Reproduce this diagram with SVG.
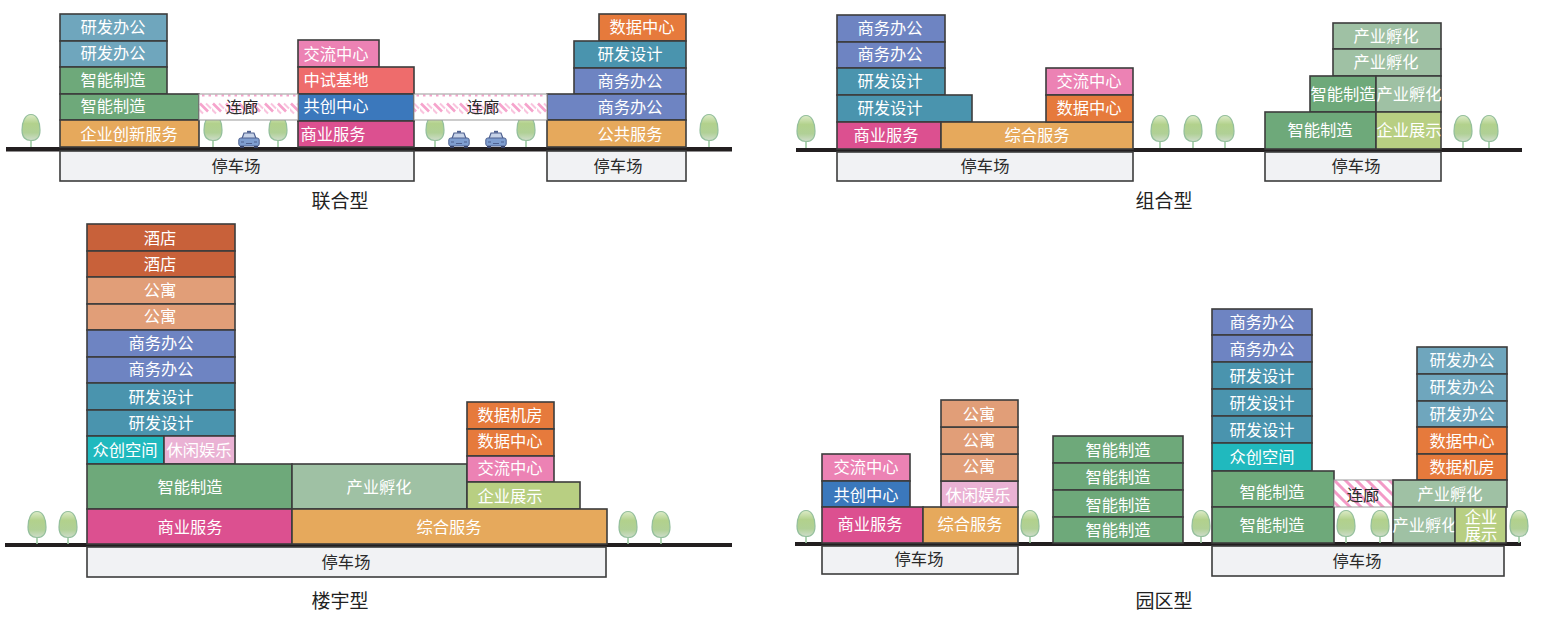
<svg xmlns="http://www.w3.org/2000/svg" xmlns:xlink="http://www.w3.org/1999/xlink" width="1550" height="617" viewBox="0 0 1550 617">
<style>
text{font-family:"Noto Sans CJK SC","Noto Sans",sans-serif;font-size:16.300px;text-anchor:middle}
rect.b{stroke:#3c3c3c;stroke-width:1.600}
.w{fill:#fff}.d{fill:#2a2a2a}
.title{font-size:19px;fill:#222}
.yf{fill:#6FA6BD}.zn{fill:#6EA97A}.cy{fill:#E6A95C}.jl{fill:#EC82B4}.zs{fill:#EE6C6C}.gc{fill:#3B78BC}.sy{fill:#DC5090}
.sj{fill:#E67A3C}.sd{fill:#4A94AE}.sw{fill:#6E84C2}.fh{fill:#9FC1A4}.zk{fill:#B8CF82}.jd{fill:#C8613A}.gy{fill:#E19E78}
.zc{fill:#20B9BE}.xx{fill:#EAB2D4}.pk{fill:#F1F2F4}.lk{fill:url(#hatch)}.lk2{fill:url(#hatch2)}
rect.lk,rect.lk2{stroke:#999;stroke-width:1}
.g{fill:#231F20}
</style>
<defs>
<pattern id="hatch" width="13" height="26" patternUnits="userSpaceOnUse" patternTransform="translate(199 94)">
<rect width="13" height="26" fill="#fff"/>
<path d="M1 9.500l8 8" stroke="#F6A3CC" stroke-width="2.600" fill="none"/>
<path d="M7 9.500l5 5M-1 14.500l5 5" stroke="#F9C4DE" stroke-width="2" fill="none"/>
<path d="M3 1.500h2.500M9.500 1.500h2.500" stroke="#F6A3CC" stroke-width="1.800" fill="none"/>
</pattern>
<pattern id="hatch2" width="11" height="11" patternUnits="userSpaceOnUse" patternTransform="translate(1334 480)">
<rect width="11" height="11" fill="#fff"/>
<path d="M-2 -2L13 13M-2 9L2 13M9 -2L13 2" stroke="#F39AC6" stroke-width="3" fill="none"/>
</pattern>
<linearGradient id="leaf" x1="0" y1="0" x2="0" y2="1"><stop offset="0" stop-color="#DDEBC8"/><stop offset=".35" stop-color="#B2D18C"/><stop offset=".7" stop-color="#B0D096"/><stop offset="1" stop-color="#CFDDCB"/></linearGradient>
<symbol id="tree" width="20" height="34" viewBox="0 0 20 34" overflow="visible">
<path d="M10 26V33" stroke="#9CC9A0" stroke-width="1.600" fill="none"/>
<path d="M10 .5C16 .5 19 8 19 16C19 23.500 15.500 26.500 10 26.500C4.500 26.500 1 23.500 1 16C1 8 4 .5 10 .5Z" fill="url(#leaf)" stroke="#94BF9C" stroke-width="1.200"/>
</symbol>
<symbol id="car" width="22" height="18" viewBox="0 0 22 18">
<path d="M9 .8h4v2h-4z" fill="#4F6190"/>
<path d="M4 8.500L6 3H16L18 8.500Z" fill="#C7D3E8" stroke="#4F6190" stroke-width="1.200"/>
<rect x=".8" y="8" width="20.400" height="8" rx="2" fill="#7F9ED0" stroke="#4F6190" stroke-width="1"/>
<path d="M3 12h3M16 12h3M8 13.500h6" stroke="#4F6190" stroke-width="1.200"/>
<path d="M2 16h4v2h-4zM16 16h4v2h-4z" fill="#3A4468"/>
</symbol>
</defs>

<g id="connectors">
<rect class="g" x="6" y="147" width="726" height="4.500"/>
<rect class="g" x="796" y="148" width="726" height="4"/>
<rect class="g" x="5" y="543" width="727" height="4"/>
<rect class="g" x="795" y="542" width="726" height="4"/>
</g>

<g id="trees">
<use href="#tree" x="21" y="114"/><use href="#tree" x="203" y="114"/><use href="#tree" x="268" y="114"/><use href="#tree" x="425" y="114"/><use href="#tree" x="516" y="114"/><use href="#tree" x="699" y="114"/>
<use href="#tree" x="796" y="115"/><use href="#tree" x="1150" y="115"/><use href="#tree" x="1183" y="115"/><use href="#tree" x="1215" y="115"/><use href="#tree" x="1453" y="115" /><use href="#tree" x="1479" y="115"/>
<use href="#tree" x="27" y="511"/><use href="#tree" x="58" y="511"/><use href="#tree" x="618" y="511"/><use href="#tree" x="651" y="511"/>
<use href="#tree" x="796" y="510"/><use href="#tree" x="1020" y="510"/><use href="#tree" x="1191" y="510"/><use href="#tree" x="1336" y="510"/><use href="#tree" x="1370" y="510"/><use href="#tree" x="1509" y="510"/>
</g>
<g id="cars">
<use href="#car" x="238" y="130"/><use href="#car" x="448" y="130"/><use href="#car" x="485" y="130"/>
</g>

<g id="lh">
<g id="lh-a1"><rect class="b yf" x="60" y="14" width="107" height="27"/><text class="w" x="113" y="33">研发办公</text></g>
<g id="lh-a2"><rect class="b yf" x="60" y="41" width="107" height="26"/><text class="w" x="113" y="59">研发办公</text></g>
<g id="lh-a3"><rect class="b zn" x="60" y="67" width="107" height="27"/><text class="w" x="113" y="86">智能制造</text></g>
<g id="lh-a4"><rect class="b zn" x="60" y="94" width="139" height="26"/><text class="w" x="113" y="112">智能制造</text></g>
<g id="lh-a5"><rect class="b cy" x="60" y="120" width="139" height="27"/><text class="w" x="129" y="140">企业创新服务</text></g>
<g id="lh-m1"><rect class="b jl" x="298" y="40" width="81" height="27"/><text class="w" x="336" y="60">交流中心</text></g>
<g id="lh-m2"><rect class="b zs" x="298" y="67" width="116" height="27"/><text class="w" x="336" y="86">中试基地</text></g>
<g id="lh-m3"><rect class="b gc" x="298" y="94" width="116" height="27"/><text class="w" x="336" y="112">共创中心</text></g>
<g id="lh-m4"><rect class="b sy" x="298" y="121" width="116" height="26"/><text class="w" x="333" y="140">商业服务</text></g>
<g id="lh-r1"><rect class="b sj" x="599" y="14" width="87" height="27"/><text class="w" x="642" y="33">数据中心</text></g>
<g id="lh-r2"><rect class="b sd" x="574" y="41" width="112" height="27"/><text class="w" x="630" y="60">研发设计</text></g>
<g id="lh-r3"><rect class="b sw" x="574" y="68" width="112" height="26"/><text class="w" x="630" y="87">商务办公</text></g>
<g id="lh-r4"><rect class="b sw" x="547" y="94" width="139" height="26"/><text class="w" x="630" y="113">商务办公</text></g>
<g id="lh-r5"><rect class="b cy" x="547" y="120" width="139" height="27"/><text class="w" x="630" y="140">公共服务</text></g>
<g id="lh-c1"><rect class="lk" x="199" y="94" width="99" height="26"/><text class="d" x="242" y="113">连廊</text></g>
<g id="lh-c2"><rect class="lk" x="414" y="94" width="133" height="26"/><text class="d" x="483" y="113">连廊</text></g>
<g id="lh-p1"><rect class="b pk" x="60" y="151" width="354" height="30"/><text class="d" x="236" y="172">停车场</text></g>
<g id="lh-p2"><rect class="b pk" x="547" y="151" width="139" height="30"/><text class="d" x="618" y="172">停车场</text></g>
<text class="title" x="340" y="208">联合型</text>
</g>

<g id="zh">
<g id="zh-a1"><rect class="b sw" x="837" y="15" width="108" height="27"/><text class="w" x="890" y="34">商务办公</text></g>
<g id="zh-a2"><rect class="b sw" x="837" y="42" width="108" height="26"/><text class="w" x="890" y="60">商务办公</text></g>
<g id="zh-a3"><rect class="b sd" x="837" y="68" width="108" height="27"/><text class="w" x="890" y="87">研发设计</text></g>
<g id="zh-a4"><rect class="b sd" x="837" y="95" width="135" height="27"/><text class="w" x="890" y="114">研发设计</text></g>
<g id="zh-a5"><rect class="b sy" x="837" y="122" width="104" height="27"/><text class="w" x="886" y="141">商业服务</text></g>
<g id="zh-a6"><rect class="b cy" x="941" y="122" width="192" height="27"/><text class="w" x="1037" y="141">综合服务</text></g>
<g id="zh-b1"><rect class="b jl" x="1046" y="68" width="87" height="27"/><text class="w" x="1089" y="87">交流中心</text></g>
<g id="zh-b2"><rect class="b sj" x="1046" y="95" width="87" height="27"/><text class="w" x="1089" y="114">数据中心</text></g>
<g id="zh-r1"><rect class="b fh" x="1333" y="23" width="108" height="26"/><text class="w" x="1386" y="42">产业孵化</text></g>
<g id="zh-r2"><rect class="b fh" x="1333" y="49" width="108" height="27"/><text class="w" x="1386" y="68">产业孵化</text></g>
<g id="zh-r3"><rect class="b zn" x="1310" y="76" width="66" height="36"/><text class="w" x="1343" y="100">智能制造</text></g>
<g id="zh-r4"><rect class="b fh" x="1376" y="76" width="65" height="36"/><text class="w" x="1409" y="100">产业孵化</text></g>
<g id="zh-r5"><rect class="b zn" x="1265" y="112" width="111" height="37"/><text class="w" x="1320" y="136">智能制造</text></g>
<g id="zh-r6"><rect class="b zk" x="1376" y="112" width="65" height="37"/><text class="w" x="1409" y="136">企业展示</text></g>
<g id="zh-p1"><rect class="b pk" x="837" y="152" width="296" height="29"/><text class="d" x="985" y="172">停车场</text></g>
<g id="zh-p2"><rect class="b pk" x="1265" y="152" width="176" height="29"/><text class="d" x="1356" y="172">停车场</text></g>
<text class="title" x="1164" y="208">组合型</text>
</g>

<g id="ly">
<g id="ly-1"><rect class="b jd" x="87" y="224" width="148" height="27"/><text class="w" x="160" y="244">酒店</text></g>
<g id="ly-2"><rect class="b jd" x="87" y="251" width="148" height="26"/><text class="w" x="160" y="270">酒店</text></g>
<g id="ly-3"><rect class="b gy" x="87" y="277" width="148" height="27"/><text class="w" x="160" y="296">公寓</text></g>
<g id="ly-4"><rect class="b gy" x="87" y="304" width="148" height="26"/><text class="w" x="160" y="322">公寓</text></g>
<g id="ly-5"><rect class="b sw" x="87" y="330" width="148" height="27"/><text class="w" x="161" y="349">商务办公</text></g>
<g id="ly-6"><rect class="b sw" x="87" y="357" width="148" height="26"/><text class="w" x="161" y="375">商务办公</text></g>
<g id="ly-7"><rect class="b sd" x="87" y="383" width="148" height="27"/><text class="w" x="161" y="403">研发设计</text></g>
<g id="ly-8"><rect class="b sd" x="87" y="410" width="148" height="26"/><text class="w" x="161" y="429">研发设计</text></g>
<g id="ly-9"><rect class="b zc" x="87" y="436" width="77" height="28"/><text class="w" x="125" y="456">众创空间</text></g>
<g id="ly-10"><rect class="b xx" x="164" y="436" width="71" height="28"/><text class="w" x="199" y="456">休闲娱乐</text></g>
<g id="ly-11"><rect class="b zn" x="87" y="464" width="205" height="45"/><text class="w" x="190" y="493">智能制造</text></g>
<g id="ly-12"><rect class="b fh" x="292" y="464" width="175" height="45"/><text class="w" x="379" y="493">产业孵化</text></g>
<g id="ly-13"><rect class="b sj" x="467" y="402" width="87" height="27"/><text class="w" x="510" y="421">数据机房</text></g>
<g id="ly-14"><rect class="b sj" x="467" y="429" width="87" height="27"/><text class="w" x="510" y="447">数据中心</text></g>
<g id="ly-15"><rect class="b jl" x="467" y="456" width="87" height="26"/><text class="w" x="510" y="474">交流中心</text></g>
<g id="ly-16"><rect class="b zk" x="467" y="482" width="113" height="27"/><text class="w" x="510" y="502">企业展示</text></g>
<g id="ly-17"><rect class="b sy" x="87" y="509" width="205" height="35"/><text class="w" x="190" y="533">商业服务</text></g>
<g id="ly-18"><rect class="b cy" x="292" y="509" width="315" height="35"/><text class="w" x="449" y="533">综合服务</text></g>
<g id="ly-p"><rect class="b pk" x="87" y="547" width="519" height="30"/><text class="d" x="346" y="568">停车场</text></g>
<text class="title" x="340" y="608">楼宇型</text>
</g>

<g id="yq">
<g id="yq-a1"><rect class="b jl" x="822" y="454" width="88" height="27"/><text class="w" x="866" y="473">交流中心</text></g>
<g id="yq-a2"><rect class="b gc" x="822" y="481" width="88" height="26"/><text class="w" x="866" y="501">共创中心</text></g>
<g id="yq-a3"><rect class="b sy" x="822" y="507" width="101" height="36"/><text class="w" x="870" y="530">商业服务</text></g>
<g id="yq-a4"><rect class="b cy" x="923" y="507" width="95" height="36"/><text class="w" x="970" y="530">综合服务</text></g>
<g id="yq-a5"><rect class="b xx" x="941" y="481" width="77" height="26"/><text class="w" x="978" y="501">休闲娱乐</text></g>
<g id="yq-a6"><rect class="b gy" x="941" y="454" width="77" height="27"/><text class="w" x="979" y="472">公寓</text></g>
<g id="yq-a7"><rect class="b gy" x="941" y="427" width="77" height="27"/><text class="w" x="979" y="446">公寓</text></g>
<g id="yq-a8"><rect class="b gy" x="941" y="400" width="77" height="27"/><text class="w" x="979" y="420">公寓</text></g>
<g id="yq-b1"><rect class="b zn" x="1053" y="436" width="130" height="27"/><text class="w" x="1118" y="456">智能制造</text></g>
<g id="yq-b2"><rect class="b zn" x="1053" y="463" width="130" height="27"/><text class="w" x="1118" y="483">智能制造</text></g>
<g id="yq-b3"><rect class="b zn" x="1053" y="490" width="130" height="27"/><text class="w" x="1118" y="511">智能制造</text></g>
<g id="yq-b4"><rect class="b zn" x="1053" y="517" width="130" height="26"/><text class="w" x="1118" y="536">智能制造</text></g>
<g id="yq-c1"><rect class="b sw" x="1212" y="309" width="100" height="26"/><text class="w" x="1262" y="328">商务办公</text></g>
<g id="yq-c2"><rect class="b sw" x="1212" y="335" width="100" height="27"/><text class="w" x="1262" y="355">商务办公</text></g>
<g id="yq-c3"><rect class="b sd" x="1212" y="362" width="100" height="27"/><text class="w" x="1262" y="382">研发设计</text></g>
<g id="yq-c4"><rect class="b sd" x="1212" y="389" width="100" height="27"/><text class="w" x="1262" y="409">研发设计</text></g>
<g id="yq-c5"><rect class="b sd" x="1212" y="416" width="100" height="27"/><text class="w" x="1262" y="436">研发设计</text></g>
<g id="yq-c6"><rect class="b zc" x="1212" y="443" width="100" height="28"/><text class="w" x="1262" y="463">众创空间</text></g>
<g id="yq-c7"><rect class="b zn" x="1212" y="471" width="122" height="36"/><text class="w" x="1272" y="498">智能制造</text></g>
<g id="yq-c8"><rect class="b zn" x="1212" y="507" width="122" height="36"/><text class="w" x="1272" y="531">智能制造</text></g>
<g id="yq-l"><rect class="lk2" x="1334" y="480" width="59" height="27"/><text class="d" x="1363" y="501">连廊</text></g>
<g id="yq-d1"><rect class="b yf" x="1417" y="347" width="90" height="27"/><text class="w" x="1462" y="366">研发办公</text></g>
<g id="yq-d2"><rect class="b yf" x="1417" y="374" width="90" height="27"/><text class="w" x="1462" y="393">研发办公</text></g>
<g id="yq-d3"><rect class="b yf" x="1417" y="401" width="90" height="26"/><text class="w" x="1462" y="420">研发办公</text></g>
<g id="yq-d4"><rect class="b sj" x="1417" y="427" width="90" height="27"/><text class="w" x="1462" y="447">数据中心</text></g>
<g id="yq-d5"><rect class="b sj" x="1417" y="454" width="90" height="26"/><text class="w" x="1462" y="473">数据机房</text></g>
<g id="yq-d6"><rect class="b fh" x="1393" y="480" width="114" height="27"/><text class="w" x="1450" y="500">产业孵化</text></g>
<g id="yq-d7"><rect class="b fh" x="1393" y="507" width="62" height="36"/><text class="w" x="1425" y="531">产业孵化</text></g>
<g id="yq-d8"><rect class="b zk" x="1455" y="507" width="51" height="36"/><text class="w" x="1481" y="523"><tspan x="1481" y="523">企业</tspan><tspan x="1481" y="540">展示</tspan></text></g>
<g id="yq-p1"><rect class="b pk" x="822" y="546" width="196" height="28"/><text class="d" x="919" y="565">停车场</text></g>
<g id="yq-p2"><rect class="b pk" x="1212" y="546" width="292" height="30"/><text class="d" x="1357" y="567">停车场</text></g>
<text class="title" x="1164" y="608">园区型</text>
</g>
</svg>
